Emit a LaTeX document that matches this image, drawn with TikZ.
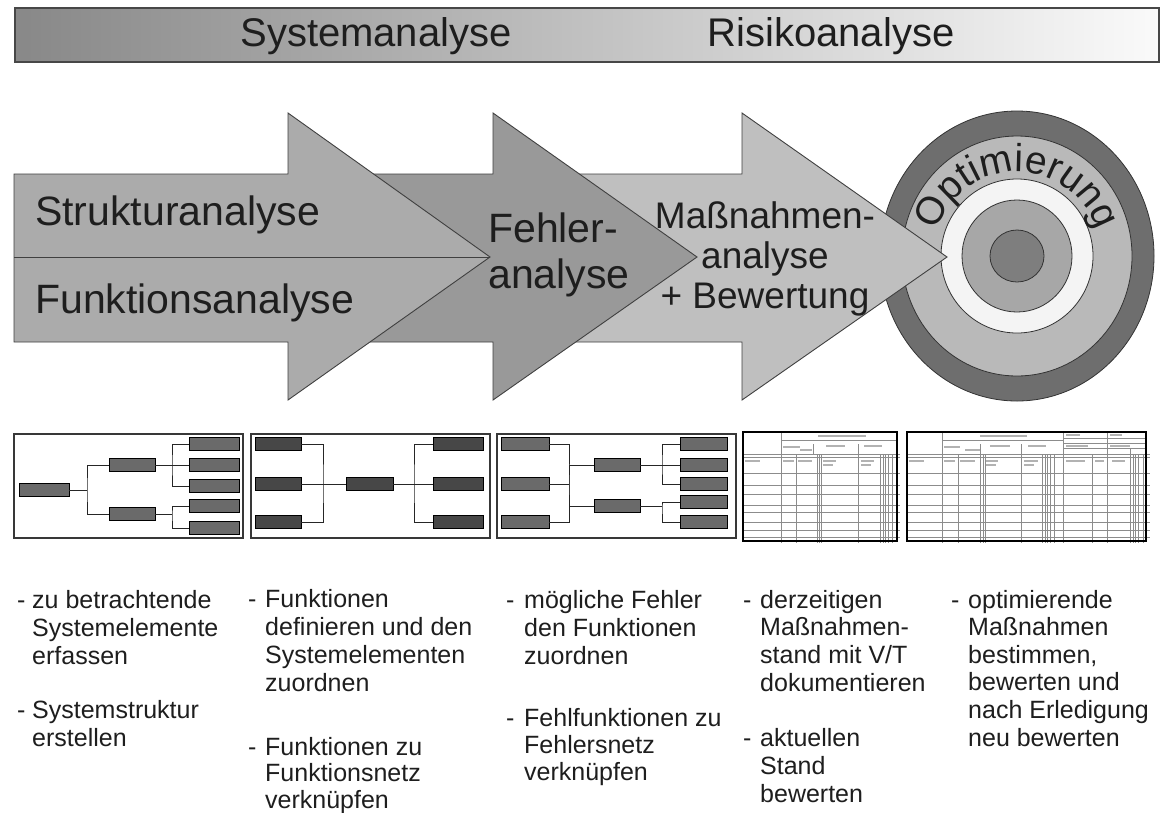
\documentclass[tikz,border=0pt]{standalone}
\usepackage{fontspec}
\setmainfont{Liberation Sans}
\usetikzlibrary{decorations.text}

\definecolor{ink}{HTML}{1E1E1E}
\definecolor{cBarL}{HTML}{888888}
\definecolor{cBarR}{HTML}{FAFAFA}
\definecolor{cArrowA}{HTML}{ABABAB}
\definecolor{cArrowB}{HTML}{999999}
\definecolor{cArrowC}{HTML}{BFBFBF}
\definecolor{cRingA}{HTML}{6E6E6E}
\definecolor{cRingB}{HTML}{B9B9B9}
\definecolor{cRingC}{HTML}{F4F4F4}
\definecolor{cRingD}{HTML}{A7A7A7}
\definecolor{cRingE}{HTML}{7E7E7E}
\definecolor{cElemA}{HTML}{6A6A6A}
\definecolor{cElemB}{HTML}{474747}

\begin{document}
\begin{tikzpicture}[x=1pt,y=-1pt,
  txt/.style={inner sep=0pt, text=ink},
  arrowshape/.style={draw=black!75, line width=0.9pt, line join=miter},
  ring/.style={draw=black!80, line width=0.8pt},
  panel/.style={draw=black!78, line width=1.4pt, fill=white},
  formframe/.style={draw=black, line width=1.8pt},
  formline/.style={draw=black!45, line width=0.6pt},
  formmark/.style={draw=black!30, line width=1.3pt},
  elem/.style={draw=black, line width=0.8pt, minimum height=12.5pt, inner sep=0pt},
  elemgray/.style={elem, fill=cElemA},
  elemdark/.style={elem, fill=cElemB},
  tree/.style={draw=black!85, line width=0.9pt},
  listtext/.style={txt, anchor=base west, align=left, font=\fontsize{25}{28}\selectfont},
]
\useasboundingbox (0,0) rectangle (1161,812);
\fill[white] (0,0) rectangle (1161,812);

% ---------- header bar ----------
\shade[left color=cBarL, right color=cBarR] (15,8) rectangle (1159,62);
\draw[draw=black!72, line width=2pt] (15,8) rectangle (1159,62);
\node[txt, anchor=base, font=\fontsize{40}{44}\selectfont] (hsys) at (376,46) {Systemanalyse};
\node[txt, anchor=base, font=\fontsize{40}{44}\selectfont] (hrisk) at (831,46) {Risikoanalyse};

% ---------- target ----------
\filldraw[ring, fill=cRingA] (1017,256) ellipse [x radius=137, y radius=145];
\filldraw[ring, fill=cRingB] (1017,256) ellipse [x radius=115, y radius=120];
\filldraw[ring, fill=cRingC] (1017,256) ellipse [x radius=76, y radius=77];
\filldraw[ring, fill=cRingD] (1017,256) ellipse [x radius=55, y radius=56];
\filldraw[ring, fill=cRingE] (1017,256) ellipse [x radius=27, y radius=26];
% ring label, baseline on an arc over the top of the target
\path[decorate, decoration={text along path, text align=center, text color=ink,
      text={|\fontsize{39}{42}\selectfont|Optimierung}}]
  (935.9,234.3) arc [start angle=195, end angle=345, radius=84];

% ---------- process arrows ----------
\filldraw[arrowshape, fill=cArrowC]
  (520,174) -- (742,174) -- (742,113) -- (947,257) -- (742,400) -- (742,342) -- (520,342) -- cycle;
\filldraw[arrowshape, fill=cArrowB]
  (300,174) -- (493,174) -- (493,113) -- (697,257) -- (493,400) -- (493,342) -- (300,342) -- cycle;
\filldraw[arrowshape, fill=cArrowA]
  (14,174) -- (288,174) -- (288,113) -- (490,257) -- (288,400) -- (288,342) -- (14,342) -- cycle;
\draw[arrowshape] (14,257) -- (490,257);

\node[txt, anchor=base west, font=\fontsize{41}{46}\selectfont] (struk) at (35,225) {Strukturanalyse};
\node[txt, anchor=base west, font=\fontsize{41}{46}\selectfont] (funk) at (35,313) {Funktionsanalyse};
% multi-line nodes: the base anchor sits on the last line
\node[txt, anchor=base west, align=left, font=\fontsize{41}{46}\selectfont] (fehl) at (488,288) {Fehler-\\analyse};
\node[txt, anchor=base, align=center, font=\fontsize{37}{40}\selectfont] (mass) at (765,308) {Maßnahmen-\\analyse\\+ Bewertung};

% ---------- panel 1: system structure ----------
\draw[panel] (14,434) rectangle (243,538);
\node[elemgray, minimum width=50pt] (s0) at (44,490) {};
\node[elemgray, minimum width=46pt] (s1) at (132,465) {};
\node[elemgray, minimum width=46pt] (s2) at (132,514) {};
\node[elemgray, minimum width=50pt] (s11) at (214,444) {};
\node[elemgray, minimum width=50pt] (s12) at (214,465) {};
\node[elemgray, minimum width=50pt] (s13) at (214,486) {};
\node[elemgray, minimum width=50pt] (s21) at (214,506) {};
\node[elemgray, minimum width=50pt] (s22) at (214,528) {};
\coordinate (sj0) at (87,490);
\coordinate (sj1) at (172,465);
\coordinate (sj2) at (172,514);
\draw[tree] (s0.east) -- (sj0);
\draw[tree] (s1.west) -| (sj0) |- (s2.west);
\draw[tree] (s1.east) -- (s12.west);
\draw[tree] (s11.west) -| (sj1) |- (s13.west);
\draw[tree] (s2.east) -- (sj2);
\draw[tree] (s21.west) -| (sj2) |- (s22.west);

% ---------- panel 2: function net ----------
\draw[panel] (251,434) rectangle (490,538);
\node[elemdark, minimum width=46pt] (f1) at (278,444) {};
\node[elemdark, minimum width=46pt] (f2) at (278,484) {};
\node[elemdark, minimum width=46pt] (f3) at (278,522) {};
\node[elemdark, minimum width=47pt] (fc) at (369.5,484) {};
\node[elemdark, minimum width=50pt] (g1) at (458,444) {};
\node[elemdark, minimum width=50pt] (g2) at (458,484) {};
\node[elemdark, minimum width=50pt] (g3) at (458,522) {};
\coordinate (fj1) at (323,484);
\coordinate (fj2) at (414,484);
\draw[tree] (f1.east) -| (fj1) |- (f3.east);
\draw[tree] (f2.east) -- (fc.west);
\draw[tree] (fc.east) -- (g2.west);
\draw[tree] (g1.west) -| (fj2) |- (g3.west);

% ---------- panel 3: failure net ----------
\draw[panel] (497,434) rectangle (736,538);
\node[elemgray, minimum width=48pt] (e1) at (525,444) {};
\node[elemgray, minimum width=48pt] (e2) at (525,484) {};
\node[elemgray, minimum width=48pt] (e3) at (525,522) {};
\node[elemgray, minimum width=46pt] (em1) at (617,465) {};
\node[elemgray, minimum width=46pt] (em2) at (617,506) {};
\node[elemgray, minimum width=47pt] (er1) at (703.5,444) {};
\node[elemgray, minimum width=47pt] (er2) at (703.5,465) {};
\node[elemgray, minimum width=47pt] (er3) at (703.5,484) {};
\node[elemgray, minimum width=47pt] (er4) at (703.5,502) {};
\node[elemgray, minimum width=47pt] (er5) at (703.5,522) {};
\coordinate (ej0) at (569,484);
\coordinate (ej1) at (662,465);
\coordinate (ej2) at (662,506);
\draw[tree] (e1.east) -| (ej0) |- (e3.east);
\draw[tree] (e2.east) -- (ej0);
\draw[tree] (em1.west) -| (ej0) |- (em2.west);
\draw[tree] (em1.east) -- (er2.west);
\draw[tree] (er1.west) -| (ej1) |- (er3.west);
\draw[tree] (em2.east) -- (ej2);
\draw[tree] (er4.west) -| (ej2) |- (er5.west);

% ---------- panel 4: FMEA form (current state) ----------
\fill[white] (743,432) rectangle (897,541);
\foreach \y in {454,457,473,485,494,505,512,522,530,537}
  \draw[formline] (743,\y) -- (900,\y);
\foreach \x in {781,796,817,819,821,858,880,883,885,888,892}
  \draw[formline] (\x,454) -- (\x,543);
\draw[formline] (781,432) -- (781,454);
\draw[formline] (781,440) -- (897,440);
\draw[formline] (813,444) -- (813,454);
\draw[formline] (858,444) -- (858,454);
\foreach \a/\b/\y in {818/866/436, 783/800/447, 800/812/450, 826/845/446, 864/882/446,
                      745/760/461, 783/794/461, 798/812/461, 823/836/461, 823/833/465,
                      861/874/461, 861/871/465}
  \draw[formmark] (\a,\y) -- (\b,\y);
\draw[formframe] (743,432) rectangle (897,541);

% ---------- panel 5: FMEA form (optimised state) ----------
\fill[white] (907,432) rectangle (1146,541);
\foreach \y in {454,457,473,485,494,505,512,522,530,537}
  \draw[formline] (907,\y) -- (1150,\y);
\foreach \x in {942,958,980,983,985,1021,1042,1045,1047,1050,1054,1063,1092,1107,1130,1133,1135,1138,1143}
  \draw[formline] (\x,454) -- (\x,543);
\draw[formline] (942,432) -- (942,454);
\draw[formline] (942,440) -- (1063,440);
\draw[formline] (980,444) -- (980,454);
\draw[formline] (1021,444) -- (1021,454);
\draw[formline] (1063,432) -- (1063,457);
\draw[formline] (1107,432) -- (1107,457);
\draw[formline] (1063,438) -- (1146,438);
\draw[formline] (1063,443) -- (1146,443);
\draw[formline] (1063,448) -- (1146,448);
\draw[formline] (1130,448) -- (1130,457);
\foreach \a/\b/\y in {980/1027/436, 944/960/447, 965/980/450, 990/1010/446, 1028/1046/446,
                      909/924/461, 944/955/461, 960/975/461, 986/998/461, 986/996/465,
                      1024/1038/461, 1024/1034/465, 1066/1085/461, 1095/1104/461, 1112/1125/461,
                      1066/1080/435, 1110/1122/435, 1066/1088/446, 1110/1130/446}
  \draw[formmark] (\a,\y) -- (\b,\y);
\draw[formframe] (907,432) rectangle (1146,541);

% ---------- step descriptions (dash on the first line, text block anchored on its last line) ----------
\node[listtext] (d1a) at (17,608) {-};
\node[listtext] (t1a) at (32,664) {zu betrachtende\\Systemelemente\\erfassen};
\node[listtext] (d1b) at (17,718) {-};
\node[listtext] (t1b) at (32,746) {Systemstruktur\\erstellen};

\node[listtext] (d2a) at (248,607) {-};
\node[listtext] (t2a) at (265,691) {Funktionen\\definieren und den\\Systemelementen\\zuordnen};
\node[listtext] (d2b) at (248,755) {-};
\node[listtext, font=\fontsize{25}{26.5}\selectfont] (t2b) at (265,808) {Funktionen zu\\Funktionsnetz\\verknüpfen};

\node[listtext] (d3a) at (506,608) {-};
\node[listtext] (t3a) at (524,664) {mögliche Fehler\\den Funktionen\\zuordnen};
\node[listtext] (d3b) at (506,726) {-};
\node[listtext, font=\fontsize{25}{27}\selectfont] (t3b) at (524,780) {Fehlfunktionen zu\\Fehlersnetz\\verknüpfen};

\node[listtext] (d4a) at (743,608) {-};
\node[listtext, font=\fontsize{25}{27.7}\selectfont] (t4a) at (760,691.1) {derzeitigen\\Maßnahmen-\\stand mit V/T\\dokumentieren};
\node[listtext] (d4b) at (743,746) {-};
\node[listtext] (t4b) at (760,802) {aktuellen\\Stand\\bewerten};

\node[listtext] (d5a) at (951,608) {-};
\node[listtext, font=\fontsize{25}{27.6}\selectfont] (t5a) at (968,746) {optimierende\\Maßnahmen\\bestimmen,\\bewerten und\\nach Erledigung\\neu bewerten};
\end{tikzpicture}
\end{document}
